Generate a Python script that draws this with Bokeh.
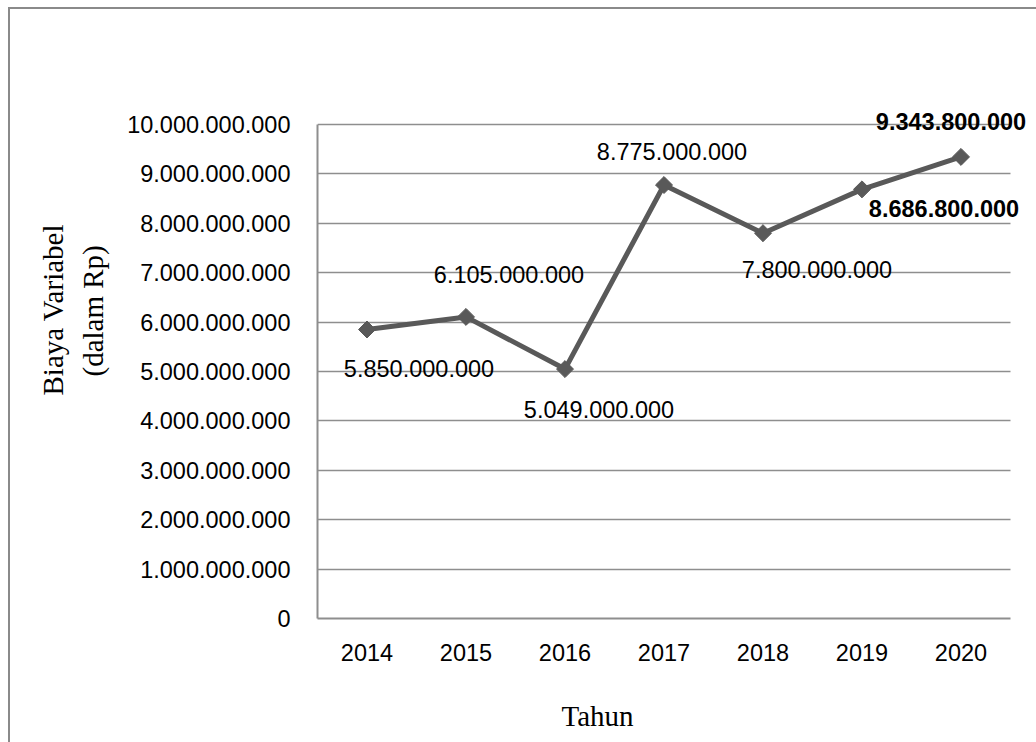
import math
from bokeh.plotting import figure
from bokeh.models import Range1d, FixedTicker, Title, BoxAnnotation, ColumnDataSource
from bokeh.core.properties import value
from bokeh.embed import file_html
from bokeh.resources import INLINE

# ---- data ----
years = ["2014", "2015", "2016", "2017", "2018", "2019", "2020"]
biaya = [5850000000, 6105000000, 5049000000, 8775000000, 7800000000, 8686800000, 9343800000]
y_ticks = [0, 1000000000, 2000000000, 3000000000, 4000000000, 5000000000,
           6000000000, 7000000000, 8000000000, 9000000000, 10000000000]
y_tick_labels = ["0", "1.000.000.000", "2.000.000.000", "3.000.000.000", "4.000.000.000",
                 "5.000.000.000", "6.000.000.000", "7.000.000.000", "8.000.000.000",
                 "9.000.000.000", "10.000.000.000"]

# ---- label placement / style (not data) ----
label_dx = [52, 43, 34, 8, 54, 82, -10]
label_dy = [39, -42, 40, -34, 36, 19, -35]
label_style = ["normal", "normal", "normal", "normal", "normal", "bold", "bold"]

def fmt(v):
    return f"{v:,.0f}".replace(",", ".")

xpos = list(range(len(years)))
src = ColumnDataSource(dict(
    x=xpos, val=biaya, label=[fmt(v) for v in biaya],
    dx=label_dx, dy=label_dy, style=label_style,
))

# layout (page offset of the figure because of the CSS border)
OX, OY = 10, 9
W, H = 1036 - OX, 742 - OY
CAT_PX = 99.0                      # pixel width of one category
FRAME_L, FRAME_B = 317, 618       # page coords
FRAME_T = 99
frame_w = 1036 - FRAME_L
frame_h = FRAME_B - FRAME_T
y_max = 10000000000
y_end = y_max * frame_h / 494.0
x_end = -0.5 + frame_w / CAT_PX

p = figure(
    x_range=Range1d(-0.5, x_end),
    y_range=Range1d(0, y_end),
    width=W, height=H,
    frame_width=frame_w, frame_height=frame_h,
    min_border_left=FRAME_L - OX, min_border_right=0,
    min_border_top=FRAME_T - OY, min_border_bottom=H - (FRAME_T - OY) - frame_h,
    output_backend="svg", toolbar_location=None,
    styles={"margin-left": "8px", "margin-top": "7px",
            "border-left": "2px solid #8a8a8a", "border-top": "2px solid #8a8a8a"},
)
p.outline_line_color = None
p.background_fill_color = "white"
p.border_fill_color = "white"

GRID = "#8e8e8e"
p.xgrid.grid_line_color = None
p.ygrid.grid_line_color = GRID
p.ygrid.grid_line_width = 1.5
p.ygrid.bounds = (0, y_end)
p.yaxis.ticker = FixedTicker(ticks=y_ticks)
p.yaxis.major_label_overrides = {t: l for t, l in zip(y_ticks, y_tick_labels)}
p.yaxis.bounds = (0, y_max)
p.xaxis.ticker = FixedTicker(ticks=xpos)
p.xaxis.major_label_overrides = {i: y for i, y in zip(xpos, years)}
p.xaxis.bounds = (-0.5, len(years) - 0.5)

for ax in (p.xaxis[0], p.yaxis[0]):
    ax.axis_line_color = GRID
    ax.axis_line_width = 2
    ax.major_tick_line_color = None
    ax.minor_tick_line_color = None
    ax.major_tick_in = 0
    ax.major_tick_out = 0
    ax.major_label_text_font = "Liberation Sans"
    ax.major_label_text_font_size = "23.5px"
    ax.major_label_text_color = "black"
p.yaxis.major_label_standoff = 27
p.xaxis.major_label_standoff = 25

# white mask so that gridlines stop at the last category edge
p.add_layout(BoxAnnotation(left=len(years) - 0.5, fill_color="white", fill_alpha=1,
                           line_alpha=0, level="underlay"))

p.line(x="x", y="val", source=src, line_width=5, line_color="#595959")
p.scatter(x="x", y="val", source=src, marker="square", size=12, angle=math.pi / 4,
          fill_color="#595959", line_color="#595959")
p.text(x="x", y="val", text="label", source=src, x_offset="dx", y_offset="dy",
       text_align="center", text_baseline="middle", text_font=value("Liberation Sans"),
       text_font_size="23.5px", text_font_style="style", text_color="black")

def title(text, offset, standoff):
    return Title(text=text, align="left", offset=offset, standoff=standoff,
                 text_font="Liberation Serif", text_font_size="29px",
                 text_font_style="normal", text_color="black")

p.add_layout(title("(dalam Rp)", 242, 32), "left")
p.add_layout(title("Biaya Variabel", 223, -20), "left")
p.add_layout(title("Tahun", 244, 68), "below")

open("out.html", "w").write(file_html(p, INLINE))
